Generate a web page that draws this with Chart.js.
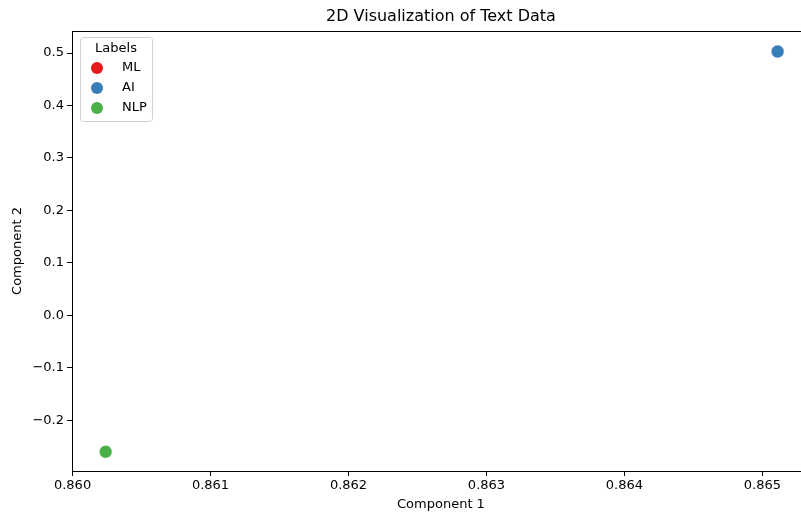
<!DOCTYPE html>
<html>
<head>
<meta charset="utf-8">
<script src="https://cdn.jsdelivr.net/npm/chart.js@4.4.1/dist/chart.umd.min.js"></script>
<style>
  html, body { margin: 0; padding: 0; background: #fff; overflow: hidden; }
  #wrap { width: 817px; height: 512px; }
</style>
</head>
<body>
<div id="wrap"><canvas id="c" width="817" height="512"></canvas></div>
<script>
// Text embeddings reduced to two components, one point per label
const labels = ['ML', 'AI', 'NLP'];
const component1 = [0.865110, 0.865110, 0.860240];
const component2 = [0.5030, 0.5030, -0.2600];
const colors = ['#e41a1c', '#377eb8', '#4daf4a'];

const xTicks = [0.860, 0.861, 0.862, 0.863, 0.864, 0.865];
const yTicks = [-0.2, -0.1, 0.0, 0.1, 0.2, 0.3, 0.4, 0.5];

const TITLE = '2D Visualization of Text Data';
const FONT = 'DejaVu Sans';
const minus = s => s.replace('-', '\u2212');

const datasets = labels.map((lab, i) => ({
  label: lab,
  data: [{ x: component1[i], y: component2[i] }],
  backgroundColor: colors[i],
  borderColor: '#ffffff',
  borderWidth: 0.6,
  pointRadius: 6.5,
  pointHoverRadius: 6.5,
  order: labels.length - i   // later labels are drawn over earlier ones
}));

// title centred over the plot area, plus the frame line along its top
const frameAndTitle = {
  id: 'frameAndTitle',
  afterDraw(chart) {
    const { ctx, chartArea: a } = chart;
    ctx.save();
    ctx.strokeStyle = '#000';
    ctx.lineWidth = 1;
    ctx.beginPath();
    ctx.moveTo(a.left, a.top + 0.5);
    ctx.lineTo(a.right, a.top + 0.5);
    ctx.stroke();
    ctx.fillStyle = '#000';
    ctx.font = '16px ' + FONT;
    ctx.textAlign = 'center';
    ctx.textBaseline = 'middle';
    ctx.fillText(TITLE, (a.left + a.right) / 2, 17);
    ctx.restore();
  }
};

// boxed legend with a title, inside the upper-left corner
const boxLegend = {
  id: 'boxLegend',
  afterDraw(chart) {
    const { ctx, chartArea: a } = chart;
    const x0 = a.left + 8, y0 = a.top + 6, w = 72, h = 84;
    ctx.save();
    ctx.fillStyle = 'rgba(255,255,255,0.8)';
    ctx.strokeStyle = '#d0d0d0';
    ctx.lineWidth = 1;
    ctx.beginPath();
    ctx.roundRect(x0 + 0.5, y0 + 0.5, w, h, 3);
    ctx.fill();
    ctx.stroke();
    ctx.font = '13px ' + FONT;
    ctx.fillStyle = '#000';
    ctx.textBaseline = 'middle';
    ctx.textAlign = 'center';
    ctx.fillText('Labels', x0 + w / 2, y0 + 12);
    ctx.textAlign = 'left';
    chart.data.datasets.forEach((ds, i) => {
      const cy = y0 + 31 + i * 20;
      ctx.fillStyle = ds.backgroundColor;
      ctx.beginPath();
      ctx.arc(x0 + 17, cy, 6, 0, Math.PI * 2);
      ctx.fill();
      ctx.fillStyle = '#000';
      ctx.fillText(ds.label, x0 + 42, cy);
    });
    ctx.restore();
  }
};

new Chart(document.getElementById('c'), {
  type: 'scatter',
  data: { datasets },
  plugins: [frameAndTitle, boxLegend],
  options: {
    responsive: false,
    animation: false,
    layout: { padding: { left: 0, right: 2, top: 31, bottom: 0 } },
    plugins: {
      legend: { display: false },
      tooltip: { enabled: false },
      title: { display: false }
    },
    scales: {
      x: {
        type: 'linear',
        min: 0.859996,
        max: 0.865344,
        afterFit: s => { s.height = 41; },
        afterBuildTicks: s => { s.ticks = xTicks.map(v => ({ value: v })); },
        grid: { drawOnChartArea: false, drawTicks: true, tickLength: 5, tickColor: '#000', tickWidth: 1 },
        border: { display: true, color: '#000', width: 1 },
        ticks: {
          color: '#000',
          font: { family: FONT, size: 13 },
          padding: 2,
          maxRotation: 0,
          callback: v => v.toFixed(3)
        },
        title: {
          display: true,
          text: 'Component 1',
          color: '#000',
          font: { family: FONT, size: 13 },
          padding: { top: 0, bottom: 0 }
        }
      },
      y: {
        type: 'linear',
        min: -0.2967,
        max: 0.5421,
        afterFit: s => { s.width = 72; },
        afterBuildTicks: s => { s.ticks = yTicks.map(v => ({ value: v })); },
        grid: { drawOnChartArea: false, drawTicks: true, tickLength: 5, tickColor: '#000', tickWidth: 1 },
        border: { display: true, color: '#000', width: 1 },
        ticks: {
          color: '#000',
          font: { family: FONT, size: 13 },
          padding: 3,
          callback: v => minus(v.toFixed(1))
        },
        title: {
          display: true,
          text: 'Component 2',
          color: '#000',
          font: { family: FONT, size: 13 },
          padding: { top: 10, bottom: 0 }
        }
      }
    }
  }
});
</script>
</body>
</html>
